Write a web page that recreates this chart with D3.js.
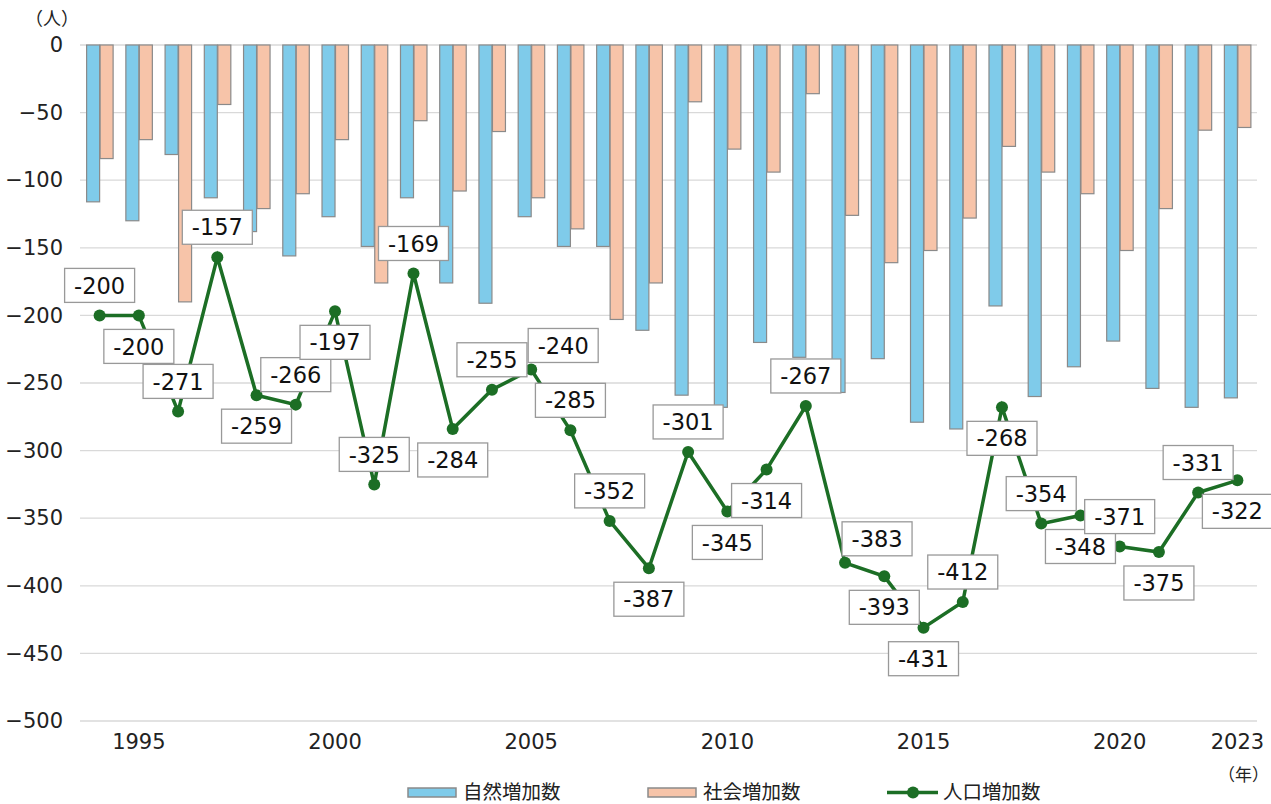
<!DOCTYPE html>
<html>
<head>
<meta charset="utf-8">
<script src="https://cdn.jsdelivr.net/npm/d3@7"></script>
<style>
  body { margin: 0; background: #fff; }
  svg text { font-family: "DejaVu Sans", "Noto Sans CJK JP", sans-serif; }
  svg text.jp { font-family: "Noto Sans CJK JP", sans-serif; }
</style>
</head>
<body>
<div id="chart"></div>
<script>
// Years
var years = d3.range(1994, 2024);

// Natural increase (自然増加数)
var natural = [-116, -130, -81, -113, -138, -156, -127, -149, -113, -176,
  -191, -127, -149, -149, -211, -259, -268, -220, -231, -257,
  -232, -279, -284, -193, -260, -238, -219, -254, -268, -261];

// Social increase (社会増加数)
var social = [-84, -70, -190, -44, -121, -110, -70, -176, -56, -108,
  -64, -113, -136, -203, -176, -42, -77, -94, -36, -126,
  -161, -152, -128, -75, -94, -110, -152, -121, -63, -61];

// Population increase (人口増加数)
var total = [-200, -200, -271, -157, -259, -266, -197, -325, -169, -284,
  -255, -240, -285, -352, -387, -301, -345, -314, -267, -383,
  -393, -431, -412, -268, -354, -348, -371, -375, -331, -322];

// Label side for each point: t = above, b = below, tr = above right
var labelSide = ["t", "b", "t", "t", "b", "t", "b", "t", "t", "b",
  "t", "tr", "t", "t", "b", "t", "b", "b", "t", "tr",
  "b", "b", "t", "b", "t", "b", "t", "b", "t", "b"];

var yTicks = [0, -50, -100, -150, -200, -250, -300, -350, -400, -450, -500];
var xTickYears = [1995, 2000, 2005, 2010, 2015, 2020, 2023];

var seriesNames = ["自然増加数", "社会増加数", "人口増加数"];

// Sizes
var width = 1271;
var height = 804;
var plotLeft = 80;
var plotRight = 1257;
var plotTop = 45;
var plotBottom = 721;

var blue = "#7fcbea";
var salmon = "#f7c4a9";
var green = "#1c6e25";

var svg = d3.select("#chart")
  .append("svg")
  .attr("width", width)
  .attr("height", height);

var xScale = d3.scaleBand()
  .domain(years)
  .range([plotLeft, plotRight]);

var yScale = d3.scaleLinear()
  .domain([-500, 0])
  .range([plotBottom, plotTop]);

var bw = 13;

// Gridlines
svg.append("g")
  .selectAll("line")
  .data(yTicks)
  .enter()
  .append("line")
  .attr("x1", plotLeft)
  .attr("x2", plotRight)
  .attr("y1", function(d) { return yScale(d); })
  .attr("y2", function(d) { return yScale(d); })
  .attr("stroke", "#d9d9d9")
  .attr("stroke-width", 1.3);

// Y axis labels
var yAxis = d3.axisLeft(yScale).tickValues(yTicks).tickSize(0).tickPadding(0);
svg.append("g")
  .attr("transform", "translate(63,0)")
  .call(yAxis)
  .call(function(g) { g.select(".domain").remove(); })
  .selectAll("text")
  .attr("font-size", "21px")
  .attr("fill", "#222")
  .attr("font-family", "'DejaVu Sans', sans-serif");

svg.append("text")
  .attr("class", "jp")
  .attr("x", 52)
  .attr("y", 25)
  .attr("text-anchor", "middle")
  .attr("font-size", "18px")
  .attr("fill", "#222")
  .text("（人）");

// X axis labels
var xAxis = d3.axisBottom(xScale).tickValues(xTickYears).tickSize(0).tickPadding(0);
svg.append("g")
  .attr("transform", "translate(0," + 734 + ")")
  .call(xAxis)
  .call(function(g) { g.select(".domain").remove(); })
  .selectAll("text")
  .attr("font-size", "21px")
  .attr("fill", "#222")
  .attr("font-family", "'DejaVu Sans', sans-serif");

svg.append("text")
  .attr("class", "jp")
  .attr("x", 1269)
  .attr("y", 781)
  .attr("text-anchor", "end")
  .attr("font-size", "17px")
  .attr("fill", "#222")
  .text("（年）");

// Bars
svg.append("g")
  .selectAll("rect")
  .data(years)
  .enter()
  .append("rect")
  .attr("x", function(d) { return xScale(d) + xScale.bandwidth() / 2 - bw; })
  .attr("y", yScale(0))
  .attr("width", bw)
  .attr("height", function(d, i) { return yScale(natural[i]) - yScale(0); })
  .attr("fill", blue)
  .attr("stroke", "#8a8a8a")
  .attr("stroke-width", 1.2);

svg.append("g")
  .selectAll("rect")
  .data(years)
  .enter()
  .append("rect")
  .attr("x", function(d) { return xScale(d) + xScale.bandwidth() / 2 + 0.5; })
  .attr("y", yScale(0))
  .attr("width", bw)
  .attr("height", function(d, i) { return yScale(social[i]) - yScale(0); })
  .attr("fill", salmon)
  .attr("stroke", "#8a8a8a")
  .attr("stroke-width", 1.2);

// Line
var cx = function(d, i) { return xScale(years[i]) + xScale.bandwidth() / 2; };
var line = d3.line()
  .x(cx)
  .y(function(d) { return yScale(d); });

svg.append("path")
  .datum(total)
  .attr("d", line)
  .attr("fill", "none")
  .attr("stroke", green)
  .attr("stroke-width", 3.5);

svg.append("g")
  .selectAll("circle")
  .data(total)
  .enter()
  .append("circle")
  .attr("cx", cx)
  .attr("cy", function(d) { return yScale(d); })
  .attr("r", 6)
  .attr("fill", green);

// Data labels
var boxW = 70, boxH = 34;
var labels = svg.append("g")
  .selectAll("g")
  .data(total)
  .enter()
  .append("g")
  .attr("transform", function(d, i) {
    var x = cx(d, i), y = yScale(d);
    var s = labelSide[i];
    if (s === "t") { y -= 30; }
    else if (s === "b") { y += 31; }
    else { x += 32; y -= 24; }
    return "translate(" + x + "," + y + ")";
  });

labels.append("rect")
  .attr("x", -boxW / 2)
  .attr("y", -boxH / 2)
  .attr("width", boxW)
  .attr("height", boxH)
  .attr("fill", "#fff")
  .attr("stroke", "#999")
  .attr("stroke-width", 1.3);

labels.append("text")
  .attr("text-anchor", "middle")
  .attr("dy", "0.36em")
  .attr("font-size", "22.5px")
  .attr("fill", "#111")
  .text(function(d) { return d; });

// Legend
var legend = svg.append("g");
var legendX = [408, 648, 887];

legend.append("rect")
  .attr("x", legendX[0]).attr("y", 788).attr("width", 48).attr("height", 9)
  .attr("fill", blue).attr("stroke", "#8a8a8a").attr("stroke-width", 1.5);
legend.append("rect")
  .attr("x", legendX[1]).attr("y", 788).attr("width", 48).attr("height", 9)
  .attr("fill", salmon).attr("stroke", "#8a8a8a").attr("stroke-width", 1.5);
legend.append("line")
  .attr("x1", legendX[2]).attr("x2", legendX[2] + 51)
  .attr("y1", 792.5).attr("y2", 792.5)
  .attr("stroke", green).attr("stroke-width", 3.5);
legend.append("circle")
  .attr("cx", legendX[2] + 26).attr("cy", 792.5).attr("r", 6).attr("fill", green);

legend.selectAll("text")
  .data(seriesNames)
  .enter()
  .append("text")
  .attr("class", "jp")
  .attr("x", function(d, i) { return legendX[i] + (i === 2 ? 56 : 55); })
  .attr("y", 799)
  .attr("font-size", "19.5px")
  .attr("fill", "#222")
  .text(function(d) { return d; });
</script>
</body>
</html>
